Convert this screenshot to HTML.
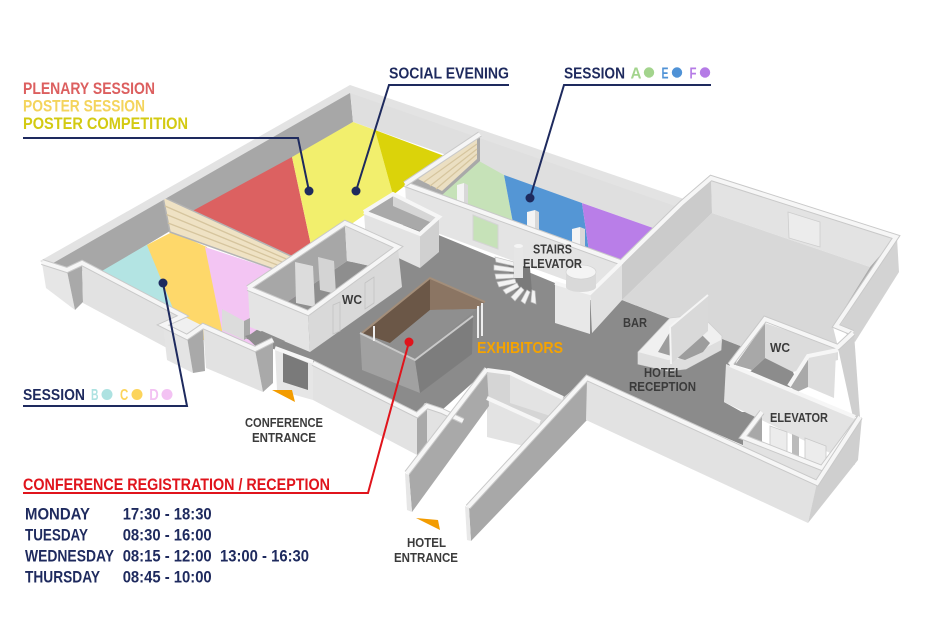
<!DOCTYPE html>
<html><head><meta charset="utf-8">
<style>
html,body{margin:0;padding:0;background:#fff;}
svg{display:block}
text{font-family:"Liberation Sans",sans-serif;font-weight:bold}
.o{fill:none;stroke:#c9c9c9;stroke-width:6;stroke-linejoin:miter}
.i{fill:none;stroke:#f6f6f6;stroke-width:4;stroke-linejoin:miter}
.lb{fill:#3b3b3b;font-size:12.5px}
.nv{fill:#1e2a5e}
</style></head><body>
<svg xmlns="http://www.w3.org/2000/svg" width="930" height="635" viewBox="0 0 930 635">
<rect width="930" height="635" fill="#fff"/>

<!-- back walls inner faces -->
<polygon points="44,263 350,91 353,122 103,271 67,271" fill="#a7a7a7"/>
<polygon points="350,89 682,203 622,262 620,262 653,228 353,122" fill="#dfdfdf"/>

<!-- floors -->
<polygon points="95,275 148,244 188,340 100,300" fill="#b3e4e3"/>
<polygon points="147,245 172,232 207,247 228,340 186,340" fill="#fed86a"/>
<polygon points="205,247 293,276 300,350 225,345" fill="#f3c5f3"/>
<polygon points="185,215 292,157 312,250 294,258" fill="#dc6161"/>
<polygon points="292,157 353,122 375,130 393,195 350,225 312,250" fill="#f2ef6d"/>
<polygon points="375,130 447,157 407,184 393,195" fill="#dbd30a"/>
<polygon points="441,193 479,161 504,175 513,223 445,198" fill="#c6e2b8"/>
<polygon points="504,175 582,203 589,251 513,223" fill="#5496d5"/>
<polygon points="582,203 653,228 620,262 589,251" fill="#b97ee8"/>

<!-- partition left hall -->
<polygon points="163,197 293,257 293,276 170,232" fill="#efe2c4" stroke="#b4b4b4" stroke-width="1.5"/>
<g stroke="#d6c59e" stroke-width="1.3">
<line x1="165" y1="206" x2="293" y2="262"/>
<line x1="166.5" y1="214.5" x2="293" y2="266.5"/>
<line x1="168" y1="223" x2="293" y2="271"/>
</g>

<!-- AEF left wall + partition -->
<polygon points="405,184 480,134 480,161 442,195 428,197" fill="#a9a9a9"/>
<polygon points="418,179 477,139 477,159 442,191" fill="#ebdfc2"/>
<g stroke="#d6c59e" stroke-width="1.2">
<line x1="424" y1="182" x2="477" y2="144"/>
<line x1="430" y1="186" x2="477" y2="149"/>
<line x1="436" y1="189" x2="477" y2="154"/>
</g>

<!-- pillars in AEF -->
<polygon points="457,185 464,183 464,204 457,202" fill="#f4f4f4"/>
<polygon points="464,183 468,185 468,205 464,204" fill="#d8d8d8"/>
<polygon points="527,212 535,210 535,231 527,229" fill="#f4f4f4"/>
<polygon points="535,210 539,212 539,232 535,231" fill="#d8d8d8"/>
<polygon points="572,229 580,227 580,246 572,244" fill="#f4f4f4"/>
<polygon points="580,227 585,229 585,247 580,246" fill="#d8d8d8"/>

<!-- back wall top strip -->
<polygon points="40,261 350,85 684,199 675,206 350,93 48,266" fill="#e3e3e3"/>

<!-- right hall walls -->
<polygon points="711,178 896,237 870,267 712,213" fill="#e3e3e3"/>
<polygon points="896,237 836,326 832,327 870,267" fill="#ababab"/>
<polygon points="897,238 899,272 855,342 839,327" fill="#d3d3d3"/>
<polygon points="788,212 820,222 820,247 789,238" fill="#ececec" stroke="#cdcdcd" stroke-width="0.8"/>

<!-- central dark floor -->
<polygon points="245,338 300,300 407,222 555,283 590,300 622,300 743,347 735,365 724,402 742,412 762,412 743,437 745,446 587,378 563,398 510,373 487,370 442,410 425,403 417,413 313,363 262,345" fill="#8b8b8b"/>

<!-- right hall floor -->
<polygon points="712,213 870,267 833,327 838,347 765,319 743,347 622,300" fill="#d8d8d8"/>

<!-- divider wall -->
<polygon points="592,292 682,203 711,178 712,213 622,300 592,333" fill="#cbcbcb"/>
<polyline class="o" points="590,293 682,203 711,178 896,237 836,326 853,333"/>
<polyline class="i" points="590,293 682,203 711,178 896,237 836,326 853,333"/>

<!-- AEF front wall -->
<polygon points="405,184 620,263 620,300 407,222" fill="#e4e4e4"/>
<polygon points="473,215 498,225 498,249 473,240" fill="#c6e2b8" stroke="#d4d4d4" stroke-width="1"/>
<polyline class="o" points="405,184 620,262"/>
<polyline class="i" points="405,184 620,262"/>
<polyline class="o" points="405,184 480,134"/>
<polyline class="i" points="405,184 480,134"/>

<!-- stairs block -->
<polygon points="555,283 590,293 590,334 555,323" fill="#e8e8e8"/>
<polygon points="590,293 622,262 622,300 592,333" fill="#e1e1e1"/>
<polyline class="i" points="555,283 590,293 622,262"/>
<polygon points="508,262 530,268 532,292 512,290" fill="#7a7a7a"/>
<g fill="#f3f3f3" stroke="#c4c4c4" stroke-width="0.7">
<polygon points="495,257 514,262 514,266 496,262"/>
<polygon points="494,265 514,268 514,272 494,270"/>
<polygon points="495,274 514,274 514,278 496,279"/>
<polygon points="497,282 515,279 516,283 499,287"/>
<polygon points="503,290 517,283 519,287 506,294"/>
<polygon points="511,297 521,287 524,290 515,301"/>
<polygon points="521,301 527,290 530,292 525,304"/>
<polygon points="531,302 532,290 535,291 536,304"/>
</g>
<rect x="514" y="246" width="9" height="32" fill="#e6e6e6"/>
<ellipse cx="518.5" cy="246" rx="4.5" ry="2" fill="#f5f5f5"/>
<rect x="566" y="272" width="30" height="15" fill="#d9d9d9"/>
<ellipse cx="581" cy="287" rx="15" ry="5" fill="#d9d9d9"/>
<ellipse cx="581" cy="272" rx="15" ry="7" fill="#f4f4f4" stroke="#d0d0d0" stroke-width="0.6"/>

<!-- cloakroom box -->
<polygon points="366,212 393,196 437,217 420,231" fill="#a9a9a9"/>
<polygon points="393,196 437,217 430,222 393,206" fill="#d6d6d6"/>
<polygon points="364,212 420,234 420,268 366,243" fill="#e3e3e3"/>
<polygon points="420,234 439,218 439,252 420,268" fill="#d0d0d0"/>
<polyline class="i" points="364,212 393,194 439,217 420,234 364,212"/>

<!-- WC left block -->
<polygon points="250,289 345,225 347,261 258,322" fill="#a7a7a7"/>
<polygon points="345,225 396,248 396,272 347,261" fill="#dedede"/>
<polygon points="347,261 396,272 308,314 258,322" fill="#8e8e8e"/>
<polygon points="295,262 313,266 315,307 296,303" fill="#dcdcdc"/>
<polygon points="318,257 334,261 336,294 320,290" fill="#d4d4d4"/>
<polygon points="248,289 308,314 310,352 250,327" fill="#e4e4e4"/>
<polygon points="308,314 398,248 402,287 310,352" fill="#d9d9d9"/>
<polygon points="333,305 340,302 340,331 333,334" fill="none" stroke="#c2c2c2" stroke-width="0.8"/>
<polygon points="365,283 374,277 374,303 365,309" fill="none" stroke="#c2c2c2" stroke-width="0.8"/>
<polyline class="o" points="248,288 345,223 398,247 308,313 248,288"/>
<polyline class="i" points="248,288 345,223 398,247 308,313 248,288"/>

<!-- exhibitors booth -->
<polygon points="362,333 430,278 485,302 415,360" fill="#8f8f8f"/>
<polygon points="362,333 430,278 430,310 390,343" fill="#6b5747"/>
<polygon points="430,278 485,302 476,309 430,310" fill="#8b7563"/>
<polygon points="390,343 430,310 476,309 415,358" fill="#8f8f8f"/>
<polygon points="360,333 415,360 420,393 362,370" fill="#a1a1a1"/>
<polygon points="415,360 473,316 472,354 420,393" fill="#7d7d7d"/>
<polyline points="362,333 430,278 485,302" fill="none" stroke="#a38e7a" stroke-width="2"/>
<polyline points="360,333 415,360 473,316" fill="none" stroke="#c9c9c9" stroke-width="2"/>
<g stroke="#eeeeee" stroke-width="2">
<line x1="374" y1="326" x2="374" y2="341"/>
<line x1="478" y1="306" x2="478" y2="338"/>
<line x1="482" y1="303" x2="482" y2="336"/>
</g>

<!-- left hall front walls -->
<polygon points="42,263 67,271 75,310 46,288" fill="#e6e6e6"/>
<polygon points="67,271 82,264 83,302 75,310" fill="#a9a9a9"/>
<polygon points="82,264 184,317 180,355 83,303" fill="#e2e2e2"/>
<polygon points="163,325 183,316 203,326 187,337" fill="#f0f0f0"/>
<polygon points="163,325 187,337 193,373 167,360" fill="#e4e4e4"/>
<polygon points="187,337 203,326 205,371 193,373" fill="#a9a9a9"/>
<polygon points="222,309 244,321 244,340 222,330" fill="#dcdcdc"/>
<polygon points="244,321 250,318 250,336 244,340" fill="#a8a8a8"/>
<polygon points="245,336 262,331 285,341 264,354" fill="#8d8d8d"/>
<polygon points="203,326 255,350 263,392 206,368" fill="#e2e2e2"/>
<polygon points="255,350 273,340 273,383 263,392" fill="#a9a9a9"/>
<polygon points="275,348 313,362 313,400 277,390" fill="#e6e6e6"/>
<polygon points="283,353 308,363 308,390 283,382" fill="#7a7a7a"/>
<polyline class="o" points="42,262 67,270 82,263 183,316 163,325 187,337 203,326 255,349 273,340"/>
<polyline class="i" points="42,262 67,270 82,263 183,316 163,325 187,337 203,326 255,349 273,340"/>
<polyline class="i" points="275,348 313,362"/>

<!-- seg3 wall -->
<polygon points="313,363 417,415 417,455 313,400" fill="#e2e2e2"/>
<polygon points="427,406 442,411 463,421 445,445 427,444" fill="#e2e2e2"/>
<polygon points="417,417 427,409 427,447 417,455" fill="#a9a9a9"/>

<!-- corridor walls and small rooms -->
<polygon points="487,370 510,373 563,398 587,378 540,429 487,398" fill="#d5d5d5"/>
<polygon points="510,374 563,399 563,420 510,403" fill="#e3e3e3"/>
<polygon points="487,398 540,422 540,450 487,437" fill="#e3e3e3"/>
<polygon points="487,372 489,406 412,512 409,475" fill="#a9a9a9"/>
<polygon points="405,473 409,475 412,512 407,510" fill="#e6e6e6"/>
<polygon points="588,380 587,420 471,541 469,508" fill="#a8a8a8"/>
<polygon points="465,506 469,508 471,541 467,540" fill="#e8e8e8"/>
<g>
<polyline class="o" points="313,363 417,415 427,406 442,411 463,421"/>
<polyline class="i" points="313,363 417,415 427,406 442,411 463,421"/>
<polyline class="o" points="487,369 407,473"/>
<polyline class="i" points="487,369 407,473"/>
<polyline class="i" points="487,398 540,422"/>
<polyline class="i" points="487,370 510,373 563,398"/>
</g>

<!-- WC right block -->
<polygon points="838,348 854,333 860,417 853,417" fill="#cfcfcf"/>
<polygon points="735,365 765,323 765,358 752,370" fill="#a8a8a8"/>
<polygon points="765,323 838,348 838,360 793,372 765,358" fill="#dcdcdc"/>
<polygon points="752,370 765,358 793,372 800,390 745,376" fill="#8c8c8c"/>
<polygon points="808,357 836,352 834,398 808,387" fill="#dedede"/>
<polygon points="789,386 808,357 808,387 797,392" fill="#a9a9a9"/>
<polygon points="726,364 855,417 855,465 724,402" fill="#e3e3e3"/>
<polyline class="o" points="730,365 765,319 838,347 853,333"/>
<polyline class="i" points="730,365 765,319 838,347 853,333"/>
<polyline class="i" points="789,386 808,356 838,350"/>
<polyline class="i" points="730,365 855,417"/>

<!-- elevator -->
<polygon points="762,414 762,443 752,450 745,438" fill="#a8a8a8"/>
<polygon points="770,426 787,432 787,453 770,447" fill="#ececec" stroke="#c8c8c8" stroke-width="0.8"/>
<polygon points="805,438 826,446 826,467 805,459" fill="#ececec" stroke="#c8c8c8" stroke-width="0.8"/>
<polygon points="792,434 799,437 799,459 792,456" fill="#bbbbbb"/>

<!-- long front wall -->
<polygon points="587,380 817,484 808,523 586,420" fill="#e2e2e2"/>
<polygon points="743,439 822,470 817,483 743,448" fill="#e2e2e2"/>
<polygon points="817,483 862,417 858,460 808,523" fill="#cfcfcf"/>
<polyline class="o" points="762,412 743,437 822,468 860,417"/>
<polyline class="i" points="762,412 743,437 822,468 860,417"/>
<polyline class="o" points="468,507 587,378 817,483 860,417"/>
<polyline class="i" points="468,507 587,378 817,483 860,417"/>

<!-- reception desk -->
<polygon points="638,352 670,318 688,316 708,322 722,336 721,350 686,369 668,371 638,364" fill="#f0f0f0" stroke="#cfcfcf" stroke-width="0.8"/>
<polygon points="638,352 668,360 686,358 721,340 721,350 686,369 668,371 638,364" fill="#dedede"/>
<polygon points="658,352 670,332 681,330 700,333 710,343 703,352 685,360" fill="#9d9d9d"/>
<polygon points="670,327 708,295 708,331 671,364" fill="#d9d9d9"/>
<polyline points="671,364 670,327 708,295" fill="none" stroke="#f5f5f5" stroke-width="2"/>

<!-- orange entrance markers -->
<polygon points="272,390 292,390 295,402" fill="#f39c00"/>
<polygon points="416,518 438,520 440,530" fill="#f39c00"/>

<!-- map labels -->
<text class="lb" x="342" y="304" textLength="20" lengthAdjust="spacingAndGlyphs">WC</text>
<text class="lb" x="533" y="253.5" textLength="39" lengthAdjust="spacingAndGlyphs">STAIRS</text>
<text class="lb" x="523" y="268" textLength="59" lengthAdjust="spacingAndGlyphs">ELEVATOR</text>
<text x="477" y="353" font-size="16" fill="#f5a300" textLength="86" lengthAdjust="spacingAndGlyphs">EXHIBITORS</text>
<text class="lb" x="623" y="327" textLength="24" lengthAdjust="spacingAndGlyphs">BAR</text>
<text class="lb" x="644" y="377" textLength="38" lengthAdjust="spacingAndGlyphs">HOTEL</text>
<text class="lb" x="629" y="391" textLength="67" lengthAdjust="spacingAndGlyphs">RECEPTION</text>
<text class="lb" x="770" y="352" textLength="20" lengthAdjust="spacingAndGlyphs">WC</text>
<text class="lb" x="770" y="422" textLength="58" lengthAdjust="spacingAndGlyphs">ELEVATOR</text>
<text class="lb" x="245" y="427" textLength="78" lengthAdjust="spacingAndGlyphs">CONFERENCE</text>
<text class="lb" x="252" y="442" textLength="64" lengthAdjust="spacingAndGlyphs">ENTRANCE</text>
<text class="lb" x="407" y="547" textLength="39" lengthAdjust="spacingAndGlyphs">HOTEL</text>
<text class="lb" x="394" y="562" textLength="64" lengthAdjust="spacingAndGlyphs">ENTRANCE</text>

<!-- legend: plenary / poster -->
<text x="23" y="94" font-size="17" fill="#dc5f5f" textLength="132" lengthAdjust="spacingAndGlyphs">PLENARY SESSION</text>
<text x="23" y="111.5" font-size="17" fill="#f4d45c" textLength="122" lengthAdjust="spacingAndGlyphs">POSTER SESSION</text>
<text x="23" y="129" font-size="17" fill="#d3ca12" textLength="165" lengthAdjust="spacingAndGlyphs">POSTER COMPETITION</text>
<polyline points="23,138 298,138 309,191" fill="none" stroke="#1e2a5e" stroke-width="2"/>
<circle cx="309" cy="191" r="4.5" fill="#1e2a5e"/>

<!-- social evening -->
<text class="nv" x="389" y="78.3" font-size="15.5" textLength="120" lengthAdjust="spacingAndGlyphs">SOCIAL EVENING</text>
<polyline points="509,85 389,85 356,191" fill="none" stroke="#1e2a5e" stroke-width="2"/>
<circle cx="356" cy="191" r="4.5" fill="#1e2a5e"/>

<!-- session A E F -->
<text class="nv" x="564" y="78.3" font-size="15.5" textLength="61" lengthAdjust="spacingAndGlyphs">SESSION</text>
<text x="630.5" y="78.3" font-size="15.5" fill="#a3d48d" textLength="11" lengthAdjust="spacingAndGlyphs">A</text>
<circle cx="649" cy="72.5" r="5.2" fill="#a3d48d"/>
<text x="661.5" y="78.3" font-size="15.5" fill="#4f92d6" textLength="7" lengthAdjust="spacingAndGlyphs">E</text>
<circle cx="677" cy="72.5" r="5.2" fill="#4f92d6"/>
<text x="689.5" y="78.3" font-size="15.5" fill="#b57be6" textLength="7" lengthAdjust="spacingAndGlyphs">F</text>
<circle cx="705" cy="72.5" r="5.2" fill="#b57be6"/>
<polyline points="711,85 564,85 530,198" fill="none" stroke="#1e2a5e" stroke-width="2"/>
<circle cx="530" cy="198" r="4.5" fill="#1e2a5e"/>

<!-- session B C D -->
<text class="nv" x="23" y="400" font-size="15.5" textLength="62" lengthAdjust="spacingAndGlyphs">SESSION</text>
<text x="91" y="400" font-size="15.5" fill="#ade2e1" textLength="7.5" lengthAdjust="spacingAndGlyphs">B</text>
<circle cx="107" cy="394.5" r="5.5" fill="#ade2e1"/>
<text x="120" y="400" font-size="15.5" fill="#fcd45b" textLength="8.3" lengthAdjust="spacingAndGlyphs">C</text>
<circle cx="137" cy="394.5" r="5.5" fill="#fcd45b"/>
<text x="149.3" y="400" font-size="15.5" fill="#f3c2f3" textLength="9.5" lengthAdjust="spacingAndGlyphs">D</text>
<circle cx="167" cy="394.5" r="5.5" fill="#f3c2f3"/>
<polyline points="23,406 187,406 163,283" fill="none" stroke="#1e2a5e" stroke-width="2"/>
<circle cx="163" cy="283" r="4.5" fill="#1e2a5e"/>

<!-- registration -->
<text x="23" y="490" font-size="16.5" fill="#e0141c" textLength="307" lengthAdjust="spacingAndGlyphs">CONFERENCE REGISTRATION / RECEPTION</text>
<polyline points="23,493 368,493 409,342" fill="none" stroke="#e0141c" stroke-width="2"/>
<circle cx="409" cy="342" r="4.5" fill="#e0141c"/>

<!-- schedule -->
<g class="nv" font-size="16.5">
<text x="25" y="519.3" textLength="65" lengthAdjust="spacingAndGlyphs">MONDAY</text>
<text x="122.7" y="519.3" textLength="89" lengthAdjust="spacingAndGlyphs">17:30 - 18:30</text>
<text x="25" y="540.7" textLength="63" lengthAdjust="spacingAndGlyphs">TUESDAY</text>
<text x="122.7" y="540.7" textLength="89" lengthAdjust="spacingAndGlyphs">08:30 - 16:00</text>
<text x="25" y="561.7" textLength="89" lengthAdjust="spacingAndGlyphs">WEDNESDAY</text>
<text x="122.7" y="561.7" textLength="89" lengthAdjust="spacingAndGlyphs">08:15 - 12:00</text>
<text x="220" y="561.7" textLength="89" lengthAdjust="spacingAndGlyphs">13:00 - 16:30</text>
<text x="25" y="582.7" textLength="75" lengthAdjust="spacingAndGlyphs">THURSDAY</text>
<text x="122.7" y="582.7" textLength="89" lengthAdjust="spacingAndGlyphs">08:45 - 10:00</text>
</g>
</svg>
</body></html>
